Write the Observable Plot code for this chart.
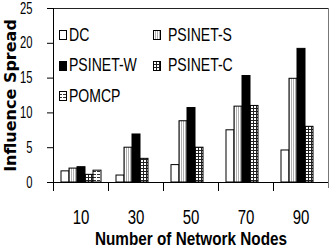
<!DOCTYPE html>
<html>
<head>
<meta charset="utf-8">
<script src="https://cdn.jsdelivr.net/npm/d3@7"></script>
<script src="https://cdn.jsdelivr.net/npm/@observablehq/plot@0.6"></script>
<style>
  html, body { margin: 0; padding: 0; background: white; }
  #wrap { position: relative; width: 332px; height: 250px; overflow: hidden; }
  #wrap svg.plot { display: block; }
  svg [aria-label="y-axis tick label"] text { font: 16px "Liberation Sans", sans-serif; }
  svg [aria-label="fx-axis tick label"] text { font: 20px "Liberation Sans", sans-serif; }
  svg [aria-label="y-axis label"] text { font: bold 16px "DejaVu Sans", sans-serif; }
  svg [aria-label="fx-axis label"] text { font: bold 18px "Liberation Sans", sans-serif; }
  #legend { position: absolute; left: 59px; top: 20px; display: grid; grid-template-columns: 94px auto; grid-auto-rows: 30.5px;
            font: 18px "Liberation Sans", sans-serif; color: black; }
  #legend .item { display: flex; align-items: center; white-space: nowrap; }
  #legend .item svg { margin-right: 2px; flex: none; }
  #legend .item:nth-child(even) svg { margin-right: 7px; }
  #legend .item span { display: inline-block; transform: scaleX(0.78); transform-origin: left center; }
</style>
</head>
<body>
<svg width="0" height="0" style="position:absolute">
  <defs>
    <pattern id="pS" width="2" height="2" patternUnits="userSpaceOnUse">
      <rect width="2" height="2" fill="white"/>
      <rect width="1" height="2" fill="#b0b0b0"/>
    </pattern>
    <pattern id="pC" width="3" height="3" patternUnits="userSpaceOnUse">
      <rect width="3" height="3" fill="white"/>
      <rect width="3" height="1" fill="#222"/>
      <rect width="1" height="3" fill="#222"/>
    </pattern>
    <pattern id="pP" width="4" height="3" patternUnits="userSpaceOnUse">
      <rect width="4" height="3" fill="white"/>
      <rect width="3" height="1" fill="#333"/>
    </pattern>
  </defs>
</svg>
<div id="wrap"></div>
<script>
const nodes = ["10", "30", "50", "70", "90"];
const series = ["DC", "PSINET-S", "PSINET-W", "PSINET-C", "POMCP"];
const dc      = [1.6, 1.0, 2.5, 7.5, 4.6];
const psinetS = [2.0, 5.0, 8.8, 10.9, 14.9];
const psinetW = [2.2, 6.9, 10.7, 15.3, 19.2];
const psinetC = [1.1, 3.4, 5.0, 11.0, 8.0];
const pomcp   = [1.7, null, null, null, null];
const yTicks  = [0, 5, 10, 15, 20, 25];
const fills   = ["white", "url(#pS)", "black", "url(#pC)", "url(#pP)"];

const seriesValues = [dc, psinetS, psinetW, psinetC, pomcp];
const table = [];
nodes.forEach((n, i) => {
  seriesValues.forEach((arr, j) => {
    if (arr[i] != null) table.push({nodes: n, series: series[j], value: arr[i]});
  });
});

const chart = Plot.plot({
  width: 332,
  height: 250,
  marginLeft: 52,
  marginRight: 3,
  marginTop: 8,
  marginBottom: 68,
  fx: {domain: nodes, paddingInner: 0, paddingOuter: 0, label: "Number of Network Nodes"},
  x: {domain: series, paddingInner: 0, paddingOuter: 0.7, axis: null},
  y: {domain: [0, 25]},
  color: {domain: series, range: fills},
  marks: [
    Plot.frame({anchor: "top", stroke: "#222"}),
    Plot.frame({anchor: "right", stroke: "#777", facetAnchor: "right", insetBottom: -5}),
    Plot.frame({anchor: "left", stroke: "black", facetAnchor: "left"}),
    Plot.frame({anchor: "left", stroke: "black", insetTop: 174, insetBottom: -8}),
    Plot.barY(table, {fx: "nodes", x: "series", y: "value", fill: "series", stroke: "black", strokeWidth: 1}),
    Plot.ruleY([0], {stroke: "black"}),
    Plot.axisY({ticks: yTicks, tickSize: 6, tickPadding: 15, label: "Influence Spread", labelAnchor: "center", labelOffset: 49, labelArrow: "none"}),
    Plot.axisFx({anchor: "bottom", tickSize: 0, tickPadding: 27, label: "Number of Network Nodes", labelAnchor: "center", labelOffset: 62, labelArrow: "none"})
  ]
});
chart.classList.add("plot");
const wrap = document.getElementById("wrap");
wrap.appendChild(chart);

// condense the Calibri-like texts horizontally
function squeeze(selector, k) {
  chart.querySelectorAll(selector).forEach(t => {
    const w = t.getComputedTextLength();
    t.setAttribute("textLength", (w * k).toFixed(2));
    t.setAttribute("lengthAdjust", "spacingAndGlyphs");
  });
}
squeeze('[aria-label="y-axis tick label"] text', 0.7);
squeeze('[aria-label="fx-axis tick label"] text', 0.75);
squeeze('[aria-label="fx-axis label"] text', 0.85);

const legend = document.createElement("div");
legend.id = "legend";
series.forEach((s, j) => {
  const item = document.createElement("div");
  item.className = "item";
  item.innerHTML = `<svg width="8" height="10"><rect x="0.5" y="0.5" width="7" height="9" fill="${fills[j]}" stroke="black" stroke-width="1"/></svg><span>${s}</span>`;
  legend.appendChild(item);
});
wrap.appendChild(legend);
</script>
</body>
</html>
